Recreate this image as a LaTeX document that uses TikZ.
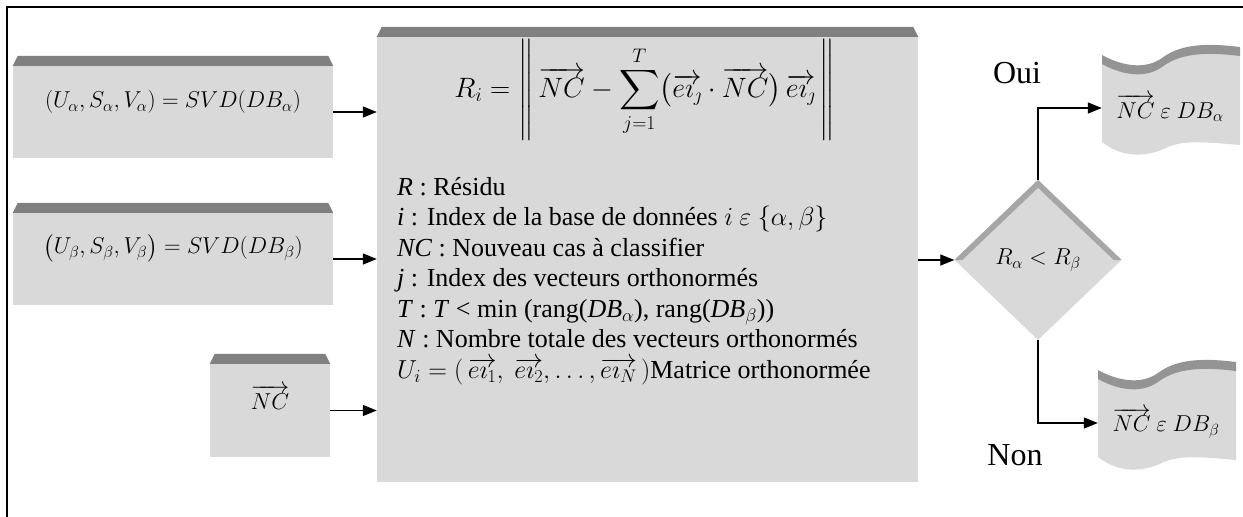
\documentclass[tikz,border=0pt]{standalone}
\usepackage{fix-cm}
\usepackage{amsmath,amssymb}
\usepackage{fontspec}
\setmainfont{Liberation Serif}
\usepackage{tikz}
\usetikzlibrary{positioning,arrows.meta,shapes.geometric}
\definecolor{boxgray}{RGB}{217,217,217}
\definecolor{bandgray}{RGB}{128,128,128}
\definecolor{edgegray}{RGB}{166,166,166}

\tikzset{
  box/.style={rectangle, fill=boxgray, inner sep=0pt},
  arr/.style={-{Triangle[length=14pt,width=11pt]}, line width=1.3pt},
  legend/.style={align=left, inner sep=0pt, font=\fontsize{26}{30.5}\selectfont}
}

\begin{document}
\begin{tikzpicture}[x=1pt, y=-1pt, font=\fontsize{23}{28}\selectfont]
  \useasboundingbox (0,0) rectangle (1243,517);
  \draw[line width=2.5pt] (7,517) -- (7,7) -- (1243,7);

  % input blocks
  \node[box, minimum width=320pt, minimum height=92pt] (svda) at (173,112) {};
  \node[box, minimum width=320pt, minimum height=92pt] (svdb) at (173,259) {};
  \node[box, minimum width=120pt, minimum height=93pt] (nc) at (270,410.5) {};
  \node[box, minimum width=541pt, minimum height=445pt] (resid) at (647.5,259.5) {};
  \foreach \b in {svda,svdb,nc,resid}
    \fill[bandgray] (\b.north west) -- ++(5pt,10pt) -- ([xshift=-5pt,yshift=10pt]\b.north east) -- (\b.north east) -- cycle;

  \node (ta) at ([yshift=10pt]svda.center) {$(U_\alpha,S_\alpha,V_\alpha) = SVD(DB_\alpha)$};
  \node (tb) at ([yshift=11pt]svdb.center) {$\bigl(U_\beta,S_\beta,V_\beta\bigr) = SVD(DB_\beta)$};
  \node (tnc) at ([yshift=13pt]nc.center) {$\overrightarrow{NC}$};

  \node[font=\fontsize{28}{32}\selectfont] (formula) at (645,90) {$\displaystyle R_i = \left\|\,\overrightarrow{NC} - \sum_{j=1}^{T}\bigl(\overrightarrow{e\imath_\jmath}\cdot\overrightarrow{NC}\bigr)\,\overrightarrow{e\imath_\jmath}\,\right\|$};
  \node[legend, anchor=north west] (notes) at (397,177) {%
    \textit{R} : Résidu\\
    \textit{i} : Index de la base de données $i\ \varepsilon\ \{\alpha,\beta\}$\\
    \textit{NC} : Nouveau cas à classifier\\
    \textit{j} : Index des vecteurs orthonormés\\
    \textit{T} : \textit{T} < min (rang(\textit{DB}$_\alpha$), rang(\textit{DB}$_\beta$))\\
    \textit{N} : Nombre totale des vecteurs orthonormés\\
    $U_i = (\,\overrightarrow{e\imath_1},\ \overrightarrow{e\imath_2}, \dots, \overrightarrow{e\imath_N}\,)$Matrice orthonormée};

  % decision
  \node[diamond, fill=boxgray, minimum width=167pt, minimum height=160pt, inner sep=0pt] (test) at (1038,260) {$R_\alpha < R_\beta$};
  \fill[edgegray] (test.west) -- (test.north) -- (test.east) -- ([xshift=-8pt]test.east) -- ([yshift=-8pt]test.north) -- ([xshift=8pt]test.west) -- cycle;

  % output documents
  \foreach \dx/\dy in {0/0, -4/315} {
    \begin{scope}[shift={(\dx,\dy)}]
      \fill[boxgray] (1102,60) .. controls (1122,71) and (1145,75) .. (1162,63) .. controls (1178,51) and (1200,47) .. (1240,52)
        -- (1240,145) .. controls (1205,142) and (1185,140) .. (1168,147) .. controls (1150,156) and (1125,160) .. (1102,142) -- cycle;
      \fill[black!42] (1102,55) .. controls (1122,66) and (1145,70) .. (1162,58) .. controls (1178,46) and (1200,42) .. (1240,47)
        -- (1240,56) .. controls (1200,51) and (1178,55) .. (1162,67) .. controls (1145,79) and (1122,75) .. (1102,64) -- cycle;
    \end{scope}
  }
  \node[minimum width=136pt, minimum height=80pt, inner sep=0pt] (dba) at (1170,108) {$\overrightarrow{NC}\ \varepsilon\ DB_\alpha$};
  \node[minimum width=136pt, minimum height=80pt, inner sep=0pt] (dbb) at (1166,423) {$\overrightarrow{NC}\ \varepsilon\ DB_\beta$};

  \node[font=\fontsize{32}{36}\selectfont] (yes) at (1017,73) {Oui};
  \node[font=\fontsize{32}{36}\selectfont] (no) at (1015,455) {Non};

  % connectors
  \draw[arr] (svda.east) -- (svda.east -| resid.west);
  \draw[arr] (svdb.east) -- (svdb.east -| resid.west);
  \draw[arr] (nc.east) -- (nc.east -| resid.west);
  \draw[arr] (test.west -| resid.east) -- (test.west);
  \draw[arr] (test.north) |- (dba.west);
  \draw[arr] (test.south) |- (dbb.west);
\end{tikzpicture}
\end{document}
